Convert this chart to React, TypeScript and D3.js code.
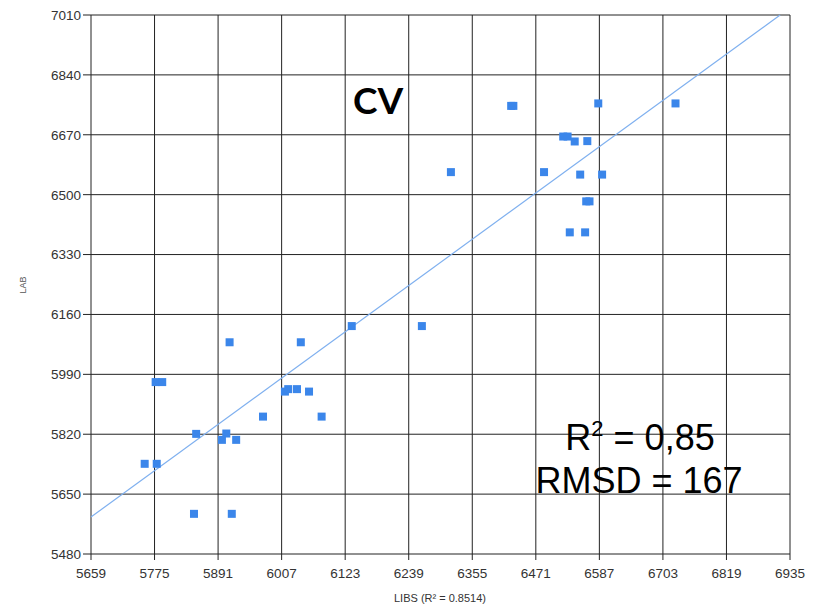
import React from "react";
import * as d3 from "d3";

const xTicks = [5659, 5775, 5891, 6007, 6123, 6239, 6355, 6471, 6587, 6703, 6819, 6935];
const yTicks = [5480, 5650, 5820, 5990, 6160, 6330, 6500, 6670, 6840, 7010];

const libs = [
  5757, 5779, 5777, 5789, 5847, 5916, 5851, 5898, 5906, 5924, 5912, 5973,
  6013, 6019, 6035, 6057, 6042, 6080, 6135, 6263, 6316, 6426, 6430, 6486,
  6521, 6529, 6542, 6565, 6552, 6592, 6563, 6569, 6533, 6561, 6585, 6726,
];
const lab = [
  5736, 5736, 5968, 5968, 5594, 5594, 5821, 5804, 5822, 5804, 6081, 5870,
  5941, 5948, 5948, 5941, 6081, 5870, 6127, 6127, 6564, 6752, 6752, 6564,
  6665, 6665, 6651, 6652, 6557, 6557, 6481, 6481, 6393, 6393, 6759, 6759,
];

const fitX = [5659, 6917];
const fitY = [5585, 7010];

const W = 815;
const H = 609;
const L = 91, R = 790, T = 15, B = 554;

export default function App() {
  const x = d3.scaleLinear().domain([5659, 6935]).range([L, R]);
  const y = d3.scaleLinear().domain([5480, 7010]).range([B, T]);
  const pts = libs.map((v, i) => ({ x: v, y: lab[i] }));
  const line = d3
    .line<number>()
    .x((d) => x(fitX[d]))
    .y((d) => y(fitY[d]));
  const tickFont = "'Liberation Sans', Arial, sans-serif";
  const ms = 8;
  return (
    <svg
      width={W}
      height={H}
      style={{ position: "absolute", left: 0, top: 0, background: "#fff" }}
    >
      <rect x={0} y={0} width={W} height={H} fill="#fff" />
      {/* grid */}
      {xTicks.map((t) => (
        <line key={"gx" + t} x1={x(t)} x2={x(t)} y1={T} y2={B + 6} stroke="#222" strokeWidth={1} />
      ))}
      {yTicks.map((t) => (
        <line key={"gy" + t} x1={L - 8} x2={R} y1={y(t)} y2={y(t)} stroke="#222" strokeWidth={1} />
      ))}
      {/* tick labels */}
      {yTicks.map((t) => (
        <text
          key={"ly" + t}
          x={L - 10}
          y={y(t)}
          dy="0.36em"
          textAnchor="end"
          fontFamily={tickFont}
          fontSize={13.5}
          fill="#333"
        >
          {t}
        </text>
      ))}
      {xTicks.map((t) => (
        <text
          key={"lx" + t}
          x={x(t)}
          y={578}
          textAnchor="middle"
          fontFamily={tickFont}
          fontSize={13.5}
          fill="#333"
        >
          {t}
        </text>
      ))}
      {/* axis titles */}
      <text
        x={440}
        y={602}
        textAnchor="middle"
        fontFamily={tickFont}
        fontSize={11}
        fill="#333"
      >
        LIBS  (R² = 0.8514)
      </text>
      <text
        transform="translate(26,285) rotate(-90)"
        textAnchor="middle"
        fontFamily={tickFont}
        fontSize={9}
        fill="#555"
      >
        LAB
      </text>
      {/* regression line */}
      <path d={line([0, 1]) || ""} fill="none" stroke="#7fb0ef" strokeWidth={1.2} />
      {/* points */}
      {pts.map((p, i) => (
        <rect
          key={i}
          x={x(p.x) - ms / 2}
          y={y(p.y) - ms / 2}
          width={ms}
          height={ms}
          fill="#3b86ea"
        />
      ))}
      {/* annotations */}
      <text
        x={378}
        y={114}
        textAnchor="middle"
        fontFamily="Lato, 'Open Sans', sans-serif"
        fontWeight="bold"
        fontSize={37}
        fill="#000"
      >
        CV
      </text>
      <text
        x={640}
        y={450}
        textAnchor="middle"
        fontFamily={tickFont}
        fontSize={36}
        fill="#000"
      >
        R<tspan fontSize={22} dy={-14}>2</tspan>
        <tspan dy={14}> = 0,85</tspan>
      </text>
      <text
        x={639}
        y={493}
        textAnchor="middle"
        fontFamily={tickFont}
        fontSize={36}
        fill="#000"
      >
        RMSD = 167
      </text>
    </svg>
  );
}
